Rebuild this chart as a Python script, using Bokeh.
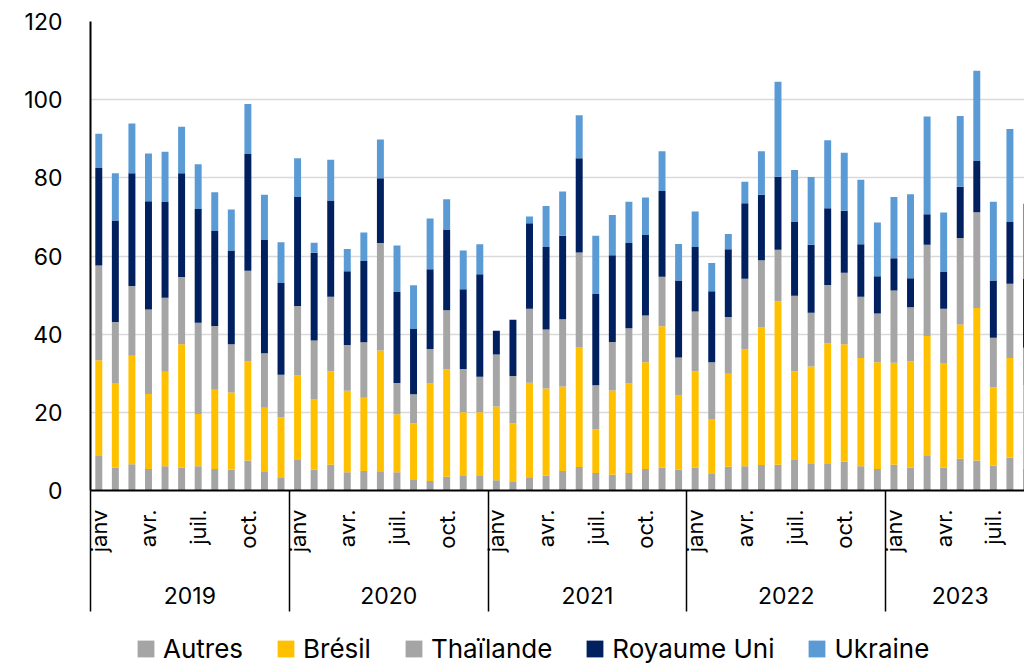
import math
from bokeh.plotting import figure
from bokeh.layouts import column
from bokeh.models import (ColumnDataSource, FixedTicker, LinearAxis, Legend,
                          LegendItem, Range1d)
from bokeh.embed import file_html
from bokeh.resources import INLINE

# ---------------- data (Jan 2019 -> Sep 2023, monthly) ----------------
years = ["2019", "2020", "2021", "2022", "2023"]
months_in_year = [12, 12, 12, 12, 9]
quarter_months = ["janv", "avr.", "juil.", "oct."]

series_names = ["Autres", "Brésil", "Thaïlande", "Royaume Uni", "Ukraine"]

autres = [8.8, 5.8, 6.7, 5.5, 6.2, 5.9, 6.2, 5.5, 5.3, 7.7, 4.9, 3.2,
          7.8, 5.4, 6.6, 4.7, 5.0, 4.9, 4.7, 2.9, 2.4, 3.5, 3.9, 3.9,
          2.6, 2.2, 3.4, 3.8, 5.0, 6.0, 4.5, 4.0, 4.5, 5.5, 5.8, 5.3,
          5.9, 4.2, 6.1, 6.2, 6.5, 6.6, 7.8, 6.8, 6.8, 7.4, 6.2, 5.5,
          6.6, 5.8, 9.0, 5.8, 8.1, 7.7, 6.4, 8.4, 5.5]
bresil = [24.5, 21.7, 27.8, 19.2, 24.2, 31.5, 13.4, 20.3, 19.8, 25.3, 16.3, 15.5,
          21.6, 18.0, 23.9, 20.8, 18.7, 30.9, 14.8, 14.3, 25.0, 27.5, 16.1, 16.1,
          18.9, 15.0, 24.2, 22.3, 21.6, 30.7, 11.1, 21.6, 22.9, 27.3, 36.2, 19.0,
          24.6, 14.1, 23.8, 29.9, 35.2, 41.8, 22.7, 24.9, 30.9, 30.0, 27.7, 27.3,
          26.1, 27.2, 30.5, 26.8, 34.4, 39.0, 20.0, 25.5, 21.4]
thailande = [24.3, 15.6, 17.8, 21.6, 18.9, 17.2, 23.3, 16.3, 12.3, 23.2, 13.9, 10.9,
             17.8, 15.0, 19.1, 11.7, 14.2, 27.5, 8.0, 7.4, 8.8, 15.1, 11.1, 9.1,
             13.3, 12.1, 18.9, 15.1, 17.2, 24.2, 11.3, 12.4, 14.1, 12.0, 12.7, 9.7,
             15.3, 14.5, 14.5, 18.1, 17.2, 13.2, 19.3, 13.8, 14.9, 18.3, 15.7, 12.5,
             18.5, 13.9, 23.4, 13.9, 22.1, 24.5, 12.7, 19.0, 9.6]
royaume_uni = [24.9, 26.0, 28.9, 27.7, 24.5, 26.6, 29.1, 24.3, 24.0, 29.9, 29.0, 23.5,
               27.9, 22.4, 24.6, 18.9, 20.8, 16.6, 23.3, 16.7, 20.4, 20.7, 20.4, 26.2,
               6.1, 14.4, 21.9, 21.1, 21.4, 24.1, 23.4, 22.2, 21.8, 20.6, 21.9, 19.7,
               16.5, 18.2, 17.3, 19.3, 16.8, 18.7, 18.9, 17.4, 19.6, 15.9, 13.4, 9.5,
               8.2, 7.4, 7.8, 9.4, 13.1, 13.1, 14.6, 15.8, 17.6]
ukraine = [8.8, 12.1, 12.7, 12.2, 12.9, 11.9, 11.5, 9.9, 10.5, 12.8, 11.6, 10.4,
           9.9, 2.6, 10.4, 5.7, 7.3, 9.9, 11.9, 11.2, 13.0, 7.7, 9.9, 7.7,
           0.0, 0.0, 1.7, 10.5, 11.3, 11.0, 14.9, 10.3, 10.6, 9.6, 10.2, 9.4,
           9.1, 7.2, 3.9, 5.5, 11.1, 24.3, 13.3, 17.3, 17.4, 14.8, 16.5, 13.8,
           15.7, 21.5, 25.0, 15.2, 18.1, 23.1, 20.2, 23.8, 19.3]

y_ticks = [0, 20, 40, 60, 80, 100, 120]

# ---------------- styling ----------------
colors = ["#a5a5a5", "#ffc000", "#a5a5a5", "#002060", "#5b9bd5"]
FONT = "Inter"

n = len(autres)
src = ColumnDataSource(dict(x=list(range(n)), Autres=autres, Brésil=bresil,
                            Thaïlande=thailande, **{"Royaume Uni": royaume_uni},
                            Ukraine=ukraine))

p = figure(width=1024, height=624, output_backend="svg", toolbar_location=None,
           x_range=Range1d(-0.5, 55.88), y_range=Range1d(0, 120),
           x_axis_location=None, min_border_left=90, min_border_top=21,
           min_border_right=0, min_border_bottom=134)
p.outline_line_color = None
p.background_fill_color = "white"
p.border_fill_color = "white"

renderers = p.vbar_stack(series_names, x="x", width=0.42, color=colors,
                         line_color=None, source=src)

# y axis
yax = p.yaxis[0]
yax.ticker = FixedTicker(ticks=y_ticks)
yax.axis_line_color = "black"
yax.axis_line_width = 2
yax.major_tick_out = 0
yax.major_tick_in = 0
yax.minor_tick_out = 0
yax.minor_tick_in = 0
yax.major_label_standoff = 28
yax.major_label_text_font = FONT
yax.major_label_text_font_size = "23px"
yax.major_label_text_color = "black"

for g in p.ygrid:
    g.grid_line_color = "#d9d9d9"
    g.grid_line_width = 1.5
for g in p.xgrid:
    g.visible = False

# month axis (quarter labels) with year separators as long minor ticks
offsets = [sum(months_in_year[:k]) for k in range(len(years))]
month_ticks = [i for i in range(n) if i % 3 == 0]
month_over = {}
for i in month_ticks:
    k = max(j for j in range(len(years)) if offsets[j] <= i)
    month_over[i] = quarter_months[(i - offsets[k]) // 3]
bounds = [o - 0.5 for o in offsets]

SEP = 121
ax1 = LinearAxis(ticker=FixedTicker(ticks=month_ticks, minor_ticks=bounds),
                 major_label_overrides=month_over,
                 major_label_orientation=math.pi / 2,
                 major_tick_out=0, major_tick_in=0,
                 minor_tick_in=0, minor_tick_out=SEP,
                 minor_tick_line_color="black", minor_tick_line_width=1.5,
                 axis_line_color="black", axis_line_width=2,
                 major_label_standoff=19 - SEP,
                 major_label_text_font=FONT,
                 major_label_text_font_size="22px",
                 major_label_text_color="black")
p.add_layout(ax1, "below")

year_centers = [offsets[k] + (months_in_year[k] - 1) / 2 for k in range(len(years))]
year_over = {c: y for c, y in zip(year_centers, years)}
ax2 = LinearAxis(ticker=FixedTicker(ticks=year_centers, minor_ticks=[]),
                 major_label_overrides=year_over,
                 major_tick_out=0, major_tick_in=0,
                 minor_tick_in=0, minor_tick_out=0,
                 axis_line_color=None,
                 major_label_standoff=31,
                 major_label_text_font=FONT,
                 major_label_text_font_size="23px",
                 major_label_text_color="black")
p.add_layout(ax2, "below")

# ---------------- legend strip (separate figure under the chart) ----------------
lf = figure(width=1024, height=40, output_backend="svg", toolbar_location=None,
            x_range=Range1d(0, 1), y_range=Range1d(0, 1),
            x_axis_location=None, y_axis_location=None, min_border=0)
lf.outline_line_color = None
lf.background_fill_color = "white"
lf.border_fill_color = "white"
for g in lf.grid:
    g.visible = False
# legend-only renderers: zero-height bars placed far outside the visible range
dummies = [lf.vbar(x=[50], top=[0], bottom=[0], width=0.1, color=c, line_color=None)
           for c in colors]

legend = Legend(items=[LegendItem(label=nm, renderers=[r]) for nm, r in zip(series_names, dummies)],
                orientation="horizontal", location=(45, 0),
                label_text_font=FONT, label_text_font_size="26px",
                label_text_color="black",
                glyph_width=21, glyph_height=21, label_standoff=7, spacing=32,
                padding=0, margin=0, border_line_color=None,
                background_fill_alpha=0)
lf.add_layout(legend)

open("out.html", "w").write(file_html(column(p, lf, spacing=0), INLINE))
